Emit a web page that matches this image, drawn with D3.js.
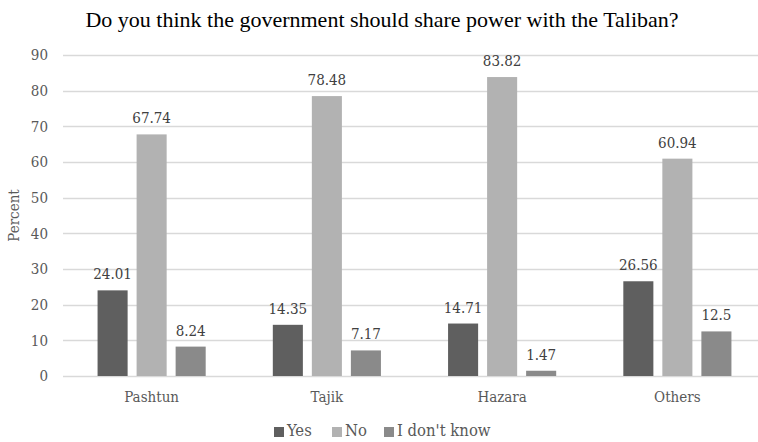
<!DOCTYPE html>
<html>
<head>
<meta charset="utf-8">
<script src="https://cdn.jsdelivr.net/npm/d3@7"></script>
<style>
  html, body { margin: 0; padding: 0; background: #fff; }
  svg { display: block; }
  .lbl { font-family: 'DejaVu Serif', serif; font-stretch: condensed; }
</style>
</head>
<body>
<svg id="chart" width="758" height="442"></svg>
<script>
// Survey responses by ethnic group (percent)
const categories = ["Pashtun", "Tajik", "Hazara", "Others"];
const seriesNames = ["Yes", "No", "I don't know"];
const yesValues = [24.01, 14.35, 14.71, 26.56];
const noValues = [67.74, 78.48, 83.82, 60.94];
const dontKnowValues = [8.24, 7.17, 1.47, 12.5];
const yTicks = [0, 10, 20, 30, 40, 50, 60, 70, 80, 90];
const seriesColors = ["#5f5f5f", "#b2b2b2", "#8a8a8a"];

const seriesValues = [yesValues, noValues, dontKnowValues];
const rows = categories.map((c, i) => ({
  category: c,
  values: seriesNames.map((s, k) => ({ series: s, value: seriesValues[k][i], k }))
}));

const svg = d3.select("#chart");
const W = 758;
const plot = { left: 64, right: 765, top: 55, bottom: 376 };
const labelSize = 15;

const x = d3.scaleBand().domain(categories).range([plot.left, plot.right]);
const xInner = d3.scaleBand().domain(seriesNames).range([0, x.bandwidth()])
  .paddingInner(0.23).paddingOuter(0.86);
const y = d3.scaleLinear().domain([0, 90]).range([plot.bottom, plot.top]);

// Gridlines
svg.append("g").selectAll("line").data(yTicks).join("line")
  .attr("x1", plot.left - 1).attr("x2", W)
  .attr("y1", d => Math.round(y(d)) + 0.5).attr("y2", d => Math.round(y(d)) + 0.5)
  .attr("stroke", "#d9d9d9").attr("stroke-width", 1.3);

// Y axis labels
const yAxis = d3.axisLeft(y).tickValues(yTicks).tickSize(0).tickPadding(16);
const gy = svg.append("g").attr("transform", `translate(${plot.left},0)`).call(yAxis);
gy.select(".domain").remove();
gy.selectAll("text").attr("class", "lbl").attr("font-family", null)
  .attr("font-size", labelSize).attr("fill", "#595959");

// X axis labels
const xAxis = d3.axisBottom(x).tickSize(0).tickPadding(15);
const gx = svg.append("g").attr("transform", `translate(0,${y(0)})`).call(xAxis);
gx.select(".domain").remove();
gx.selectAll("text").attr("class", "lbl").attr("font-family", null)
  .attr("font-size", labelSize).attr("fill", "#595959");

// Bars
const groups = svg.append("g").selectAll("g").data(rows).join("g")
  .attr("transform", d => `translate(${x(d.category)},0)`);
groups.selectAll("rect").data(d => d.values).join("rect")
  .attr("x", d => xInner(d.series))
  .attr("width", xInner.bandwidth())
  .attr("y", d => y(d.value))
  .attr("height", d => y(0) - y(d.value))
  .attr("fill", d => seriesColors[d.k]);

// Value labels
groups.selectAll("text.val").data(d => d.values).join("text")
  .attr("class", "val lbl")
  .attr("x", d => xInner(d.series) + xInner.bandwidth() / 2)
  .attr("y", d => y(d.value) - 11)
  .attr("text-anchor", "middle")
  .attr("font-size", labelSize).attr("fill", "#404040")
  .text(d => d.value);

// Title
svg.append("text").attr("x", 382).attr("y", 27).attr("text-anchor", "middle")
  .attr("font-family", "'Liberation Serif', 'Times New Roman', serif")
  .attr("font-size", 22).attr("fill", "#000")
  .text("Do you think the government should share power with the Taliban?");

// Y axis title
svg.append("text").attr("class", "lbl")
  .attr("transform", `translate(19,${(plot.top + plot.bottom) / 2}) rotate(-90)`)
  .attr("text-anchor", "middle")
  .attr("font-size", labelSize).attr("fill", "#595959")
  .text("Percent");

// Legend
const legendItems = [
  { name: seriesNames[0], x: 274 },
  { name: seriesNames[1], x: 332 },
  { name: seriesNames[2], x: 384 }
];
const lg = svg.append("g").selectAll("g").data(legendItems).join("g")
  .attr("transform", d => `translate(${d.x},436)`);
lg.append("rect").attr("x", 0).attr("y", -9).attr("width", 10).attr("height", 10)
  .attr("fill", (d, i) => seriesColors[i]);
lg.append("text").attr("class", "lbl").attr("x", 13).attr("y", 0)
  .attr("font-size", 16.5).attr("fill", "#595959")
  .text(d => d.name);
</script>
</body>
</html>
